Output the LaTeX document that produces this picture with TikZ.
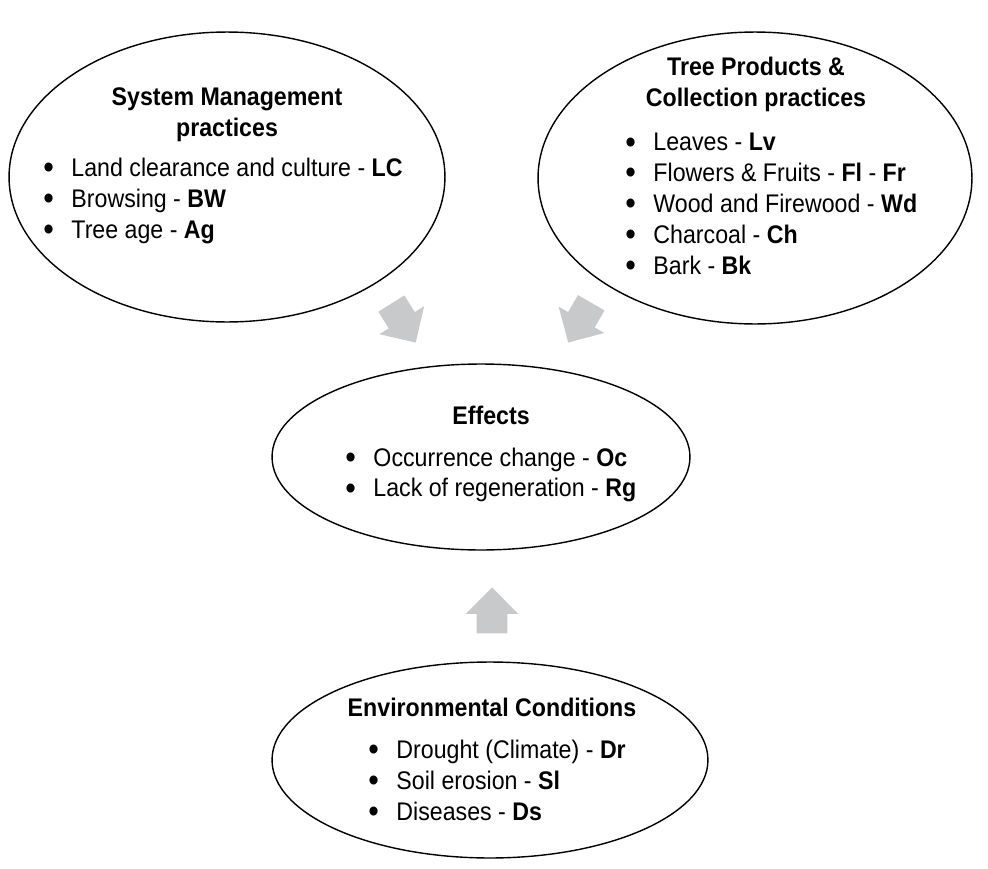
\documentclass[tikz,border=0pt]{standalone}
\usepackage{fontspec}
\setmainfont{Liberation Sans}[FakeStretch=0.91]
\usetikzlibrary{shapes.geometric,shapes.arrows}
\definecolor{arrowgray}{RGB}{200,201,202}
\tikzset{
oval/.style = {draw, ellipse, line width=0.8pt, inner sep=0pt},
ovaltitle/.style = {align=center, inner sep=0pt, font=\bfseries\fontsize{14.5}{17.6}\selectfont},
items/.style = {align=left, inner sep=0pt, anchor=west, font=\fontsize{14.5}{17.6}\selectfont},
bigarrow/.style = {single arrow, fill=arrowgray, draw=none, inner xsep=0pt, inner ysep=0.3cm, minimum height=0.92cm, single arrow head extend=0.22cm, anchor=tip}
}
\newcommand{\itm}{\makebox[16pt][l]{\raisebox{-1.3pt}{\scalebox{1.3}{\textbullet}}}}

\begin{document}
\begin{tikzpicture}[x=0.02cm, y=-0.02cm]
        \useasboundingbox (0,0) rectangle (988,869);
        % the four ovals
        \node [oval, minimum width=8.72cm, minimum height=5.8cm] (sysm) at (227,177) {};
        \node [oval, minimum width=8.68cm, minimum height=5.84cm] (prod) at (755,178) {};
        \node [oval, minimum width=8.36cm, minimum height=3.72cm] (eff) at (481,457) {};
        \node [oval, minimum width=8.72cm, minimum height=3.92cm] (env) at (490,760) {};
        % texts
        \node [ovaltitle] (sysmtitle) at (227,115) {System Management\\practices};
        \node [items] (sysmitems) at (43,201) {\itm Land clearance and culture - \textbf{LC}\\\itm Browsing - \textbf{BW}\\\itm Tree age - \textbf{Ag}};
        \node [ovaltitle] (prodtitle) at (756,84) {Tree Products \&\\Collection practices};
        \node [items] (proditems) at (625,205) {\itm Leaves - \textbf{Lv}\\\itm Flowers \& Fruits - \textbf{Fl} - \textbf{Fr}\\\itm Wood and Firewood - \textbf{Wd}\\\itm Charcoal - \textbf{Ch}\\\itm Bark - \textbf{Bk}};
        \node [ovaltitle] (efftitle) at (491,415) {Effects};
        \node [items] (effitems) at (345,475) {\itm Occurrence change - \textbf{Oc}\\\itm Lack of regeneration - \textbf{Rg}};
        \node [ovaltitle] (envtitle) at (492,707) {Environmental Conditions};
        \node [items] (envitems) at (368,781) {\itm Drought (Climate) - \textbf{Dr}\\\itm Soil erosion - \textbf{Sl}\\\itm Diseases - \textbf{Ds}};
        % gray arrows
        \node [bigarrow, rotate=-58] (arrsysm) at (416,343) {};
        \node [bigarrow, rotate=-120] (arrprod) at (568,343) {};
        \node [bigarrow, rotate=90] (arrenv) at (492,587) {};
\end{tikzpicture}
\end{document}
